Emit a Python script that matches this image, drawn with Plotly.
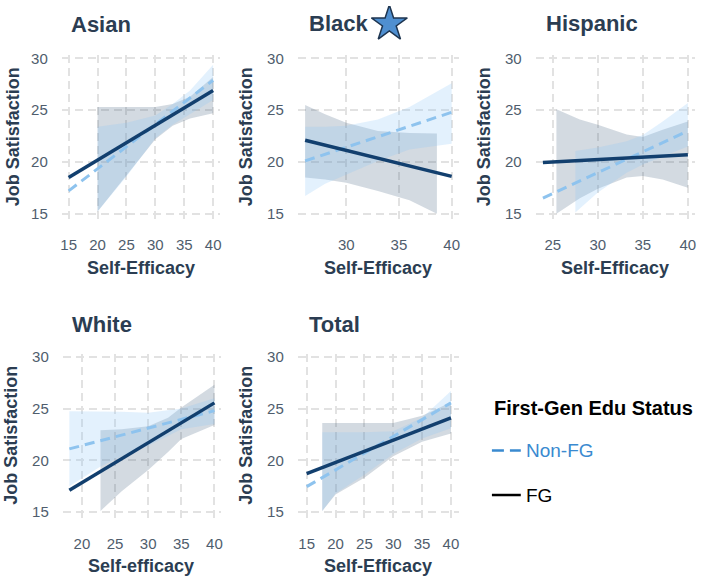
import plotly.graph_objects as go

W, H = 708, 579
FONT = "Liberation Sans, Arial, sans-serif"
TITLE_C = "#2b3d52"
TICK_C = "#4f5d6d"

# ---------------- data ----------------
panels = ["Asian", "Black", "Hispanic", "White", "Total"]
x_titles = ["Self-Efficacy", "Self-Efficacy", "Self-Efficacy", "Self-efficacy", "Self-Efficacy"]
y_title = "Job Satisfaction"
x_ticks = [[15, 20, 25, 30, 35, 40], [30, 35, 40], [25, 30, 35, 40],
           [20, 25, 30, 35, 40], [15, 20, 25, 30, 35, 40]]
y_ticks = [15, 20, 25, 30]
legend_title = "First-Gen Edu Status"
groups = ["Non-FG", "FG"]

# regression lines (x endpoints, fitted y)
asian_fg_x, asian_fg_y = [15, 40], [18.5, 26.9]
asian_nfg_x, asian_nfg_y = [15, 40], [17.2, 27.9]
black_fg_x, black_fg_y = [26.1, 40], [22.1, 18.6]
black_nfg_x, black_nfg_y = [26.1, 40], [20.1, 24.8]
hisp_fg_x, hisp_fg_y = [23.9, 40], [19.95, 20.7]
hisp_nfg_x, hisp_nfg_y = [23.9, 40], [16.5, 23.0]
white_fg_x, white_fg_y = [18.1, 40], [17.1, 25.55]
white_nfg_x, white_nfg_y = [18.1, 40], [21.1, 24.8]
total_fg_x, total_fg_y = [15, 40], [18.7, 24.1]
total_nfg_x, total_nfg_y = [15, 40], [17.45, 25.55]

# confidence bands
asian_fg_bx = [20, 25, 30, 33, 36, 40]
asian_fg_lo = [15.2, 18.7, 22.2, 23.5, 24.2, 24.7]
asian_fg_hi = [25.3, 25.3, 25.3, 25.6, 26.3, 28.2]
asian_nfg_bx = [20, 25, 30, 33, 36, 40]
asian_nfg_lo = [15.2, 18.6, 22.3, 23.6, 24.6, 26.0]
asian_nfg_hi = [23.4, 23.8, 24.5, 25.6, 26.9, 29.4]

black_fg_bx = [26.1, 28, 30, 33, 36, 38.6]
black_fg_lo = [18.5, 18.3, 18.0, 17.2, 16.3, 15.0]
black_fg_hi = [25.5, 24.6, 23.8, 23.0, 22.8, 22.75]
black_nfg_bx = [26.1, 28, 30, 33, 36, 40]
black_nfg_lo = [16.7, 17.9, 18.8, 20.1, 21.2, 21.75]
black_nfg_hi = [23.4, 23.4, 23.5, 24.1, 25.3, 27.6]

hisp_fg_bx = [25.4, 28, 30, 33.2, 35, 37.2, 40]
hisp_fg_lo = [15.0, 16.5, 17.4, 18.5, 18.65, 18.3, 17.5]
hisp_fg_hi = [25.1, 24.1, 23.6, 22.65, 22.4, 23.1, 23.9]
hisp_nfg_bx = [27.5, 30, 33.2, 35, 37.2, 40]
hisp_nfg_lo = [15.1, 17.05, 18.95, 19.75, 20.5, 21.5]
hisp_nfg_hi = [21.05, 21.4, 22.0, 22.6, 23.9, 25.7]

white_fg_bx = [22.8, 26, 30, 33, 35, 40]
white_fg_lo = [15.1, 17.0, 19.05, 20.8, 22.05, 23.4]
white_fg_hi = [22.9, 23.0, 23.3, 24.1, 25.1, 27.3]
white_nfg_bx = [18.1, 22.8, 26, 30, 35, 40]
white_nfg_lo = [17.5, 19.4, 20.4, 21.4, 23.0, 23.5]
white_nfg_hi = [24.75, 24.75, 24.7, 24.6, 25.0, 26.0]

total_fg_bx = [17.7, 20, 25, 30, 35, 40]
total_fg_lo = [15.1, 16.7, 18.3, 20.4, 21.8, 22.6]
total_fg_hi = [23.6, 23.6, 23.6, 23.6, 24.3, 25.6]
total_nfg_bx = [17.7, 20, 25, 30, 35, 40]
total_nfg_lo = [15.1, 16.8, 18.6, 20.6, 22.1, 23.1]
total_nfg_hi = [22.7, 22.7, 22.7, 22.8, 24.1, 26.7]

series = [
    (asian_fg_x, asian_fg_y, asian_nfg_x, asian_nfg_y,
     (asian_fg_bx, asian_fg_lo, asian_fg_hi), (asian_nfg_bx, asian_nfg_lo, asian_nfg_hi)),
    (black_fg_x, black_fg_y, black_nfg_x, black_nfg_y,
     (black_fg_bx, black_fg_lo, black_fg_hi), (black_nfg_bx, black_nfg_lo, black_nfg_hi)),
    (hisp_fg_x, hisp_fg_y, hisp_nfg_x, hisp_nfg_y,
     (hisp_fg_bx, hisp_fg_lo, hisp_fg_hi), (hisp_nfg_bx, hisp_nfg_lo, hisp_nfg_hi)),
    (white_fg_x, white_fg_y, white_nfg_x, white_nfg_y,
     (white_fg_bx, white_fg_lo, white_fg_hi), (white_nfg_bx, white_nfg_lo, white_nfg_hi)),
    (total_fg_x, total_fg_y, total_nfg_x, total_nfg_y,
     (total_fg_bx, total_fg_lo, total_fg_hi), (total_nfg_bx, total_nfg_lo, total_nfg_hi)),
]

# ---------------- layout geometry (pixels) ----------------
boxes = [(61, 220, 50, 217), (298, 460, 50, 217), (537, 697, 50, 217),
         (62, 221, 352, 519), (298, 460, 352, 519)]
x_ranges = [[13.8, 41.2], [25.4, 40.7], [23.1, 40.8], [17.1, 41.0], [13.45, 41.4]]
y_range = [14.35, 30.3]
title_pos = [(68, 19), (307, 18), (545, 18), (69, 322), (307, 322)]
ytitle_pos = [(12, 132), (246, 132), (485, 132), (10, 434), (246, 434)]
xtitle_pos = [(141, 265), (379, 265), (617, 265), (141, 567), (379, 567)]
star_pos = (390, 18)


def px(x):
    return x / W


def py(y):
    return 1 - y / H


FG_LINE = "#123f6e"
NFG_LINE = "#8ec3ee"
FG_FILL = "rgba(55,85,120,0.22)"
NFG_FILL = "rgba(140,195,245,0.24)"

fig = go.Figure()
layout = dict(
    width=W, height=H, margin=dict(l=0, r=0, t=0, b=0),
    paper_bgcolor="white", plot_bgcolor="rgba(0,0,0,0)", showlegend=False,
    font=dict(family=FONT),
)
annotations = []

for i, name in enumerate(panels):
    k = "" if i == 0 else str(i + 1)
    xa, ya = "x" + k, "y" + k
    x0, x1, y0, y1 = boxes[i]
    layout["xaxis" + k] = dict(
        domain=[px(x0), px(x1)], range=x_ranges[i], anchor=ya,
        tickvals=x_ticks[i], showgrid=True, gridcolor="#e2e2e2", gridwidth=1.5,
        griddash="8px,5px", zeroline=False, showline=False,
        ticks="outside", ticklen=11, tickcolor="rgba(0,0,0,0)",
        tickfont=dict(size=15, color=TICK_C, family=FONT), fixedrange=True,
    )
    layout["yaxis" + k] = dict(
        domain=[py(y1), py(y0)], range=y_range, anchor=xa,
        tickvals=y_ticks, showgrid=True, gridcolor="#e2e2e2", gridwidth=1.5,
        griddash="8px,5px", zeroline=False, showline=False,
        ticks="outside", ticklen=10, tickcolor="rgba(0,0,0,0)",
        tickfont=dict(size=15, color=TICK_C, family=FONT), fixedrange=True,
    )
    fgx, fgy, nfx, nfy, fgb, nfb = series[i]
    for (bx, lo, hi), col in ((fgb, FG_FILL), (nfb, NFG_FILL)):
        fig.add_trace(go.Scatter(
            x=list(bx) + list(bx)[::-1], y=list(hi) + list(lo)[::-1],
            fill="toself", fillcolor=col, line=dict(width=0), mode="lines",
            xaxis=xa, yaxis=ya, hoverinfo="skip"))
    fig.add_trace(go.Scatter(x=nfx, y=nfy, mode="lines", name=groups[0],
                             line=dict(color=NFG_LINE, width=3, dash="10px,6px"),
                             xaxis=xa, yaxis=ya))
    fig.add_trace(go.Scatter(x=fgx, y=fgy, mode="lines", name=groups[1],
                             line=dict(color=FG_LINE, width=3.5),
                             xaxis=xa, yaxis=ya))

    tx, ty = title_pos[i]
    annotations.append(dict(text="<b>%s</b>" % name, x=px(tx), y=py(ty), xref="paper", yref="paper",
                            xanchor="left", yanchor="middle", showarrow=False,
                            font=dict(size=22, color=TITLE_C, family=FONT)))
    yx, yy = ytitle_pos[i]
    annotations.append(dict(text="<b>%s</b>" % y_title, x=px(yx), y=py(yy), xref="paper", yref="paper",
                            xanchor="center", yanchor="middle", textangle=-90, showarrow=False,
                            font=dict(size=18, color=TITLE_C, family=FONT)))
    xx, xy = xtitle_pos[i]
    annotations.append(dict(text="<b>%s</b>" % x_titles[i], x=px(xx), y=py(xy), xref="paper", yref="paper",
                            xanchor="center", yanchor="middle", showarrow=False,
                            font=dict(size=18, color=TITLE_C, family=FONT)))

# transparent overlay axis covering the whole page, used for the star decoration
layout["xaxis6"] = dict(domain=[0, 1], range=[0, W], anchor="y6", visible=False, fixedrange=True)
layout["yaxis6"] = dict(domain=[0, 1], range=[H, 0], anchor="x6", visible=False, fixedrange=True)
fig.add_trace(go.Scatter(x=[star_pos[0]], y=[star_pos[1]], mode="markers", xaxis="x6", yaxis="y6",
                         hoverinfo="skip",
                         marker=dict(symbol="star", size=27, color="#4f8fd0",
                                     line=dict(color="#1e3550", width=1.5))))

# legend (manual)
LEG_BLUE = "#3a8ad0"
annotations.append(dict(text="<b>%s</b>" % legend_title, x=px(493), y=py(407), xref="paper", yref="paper",
                        xanchor="left", yanchor="middle", showarrow=False,
                        font=dict(size=20, color="black", family=FONT)))
annotations.append(dict(text=groups[0], x=px(525), y=py(450), xref="paper", yref="paper",
                        xanchor="left", yanchor="middle", showarrow=False,
                        font=dict(size=19, color=LEG_BLUE, family=FONT)))
annotations.append(dict(text=groups[1], x=px(525), y=py(495), xref="paper", yref="paper",
                        xanchor="left", yanchor="middle", showarrow=False,
                        font=dict(size=19, color="black", family=FONT)))
shapes = [
    dict(type="line", xref="paper", yref="paper", x0=px(493), x1=px(522), y0=py(450), y1=py(450),
         line=dict(color=LEG_BLUE, width=2.5, dash="12px,6px")),
    dict(type="line", xref="paper", yref="paper", x0=px(493), x1=px(522), y0=py(495), y1=py(495),
         line=dict(color="black", width=2.5)),
]
layout["annotations"] = annotations
layout["shapes"] = shapes
fig.update_layout(**layout)
fig.write_html("out.html")
